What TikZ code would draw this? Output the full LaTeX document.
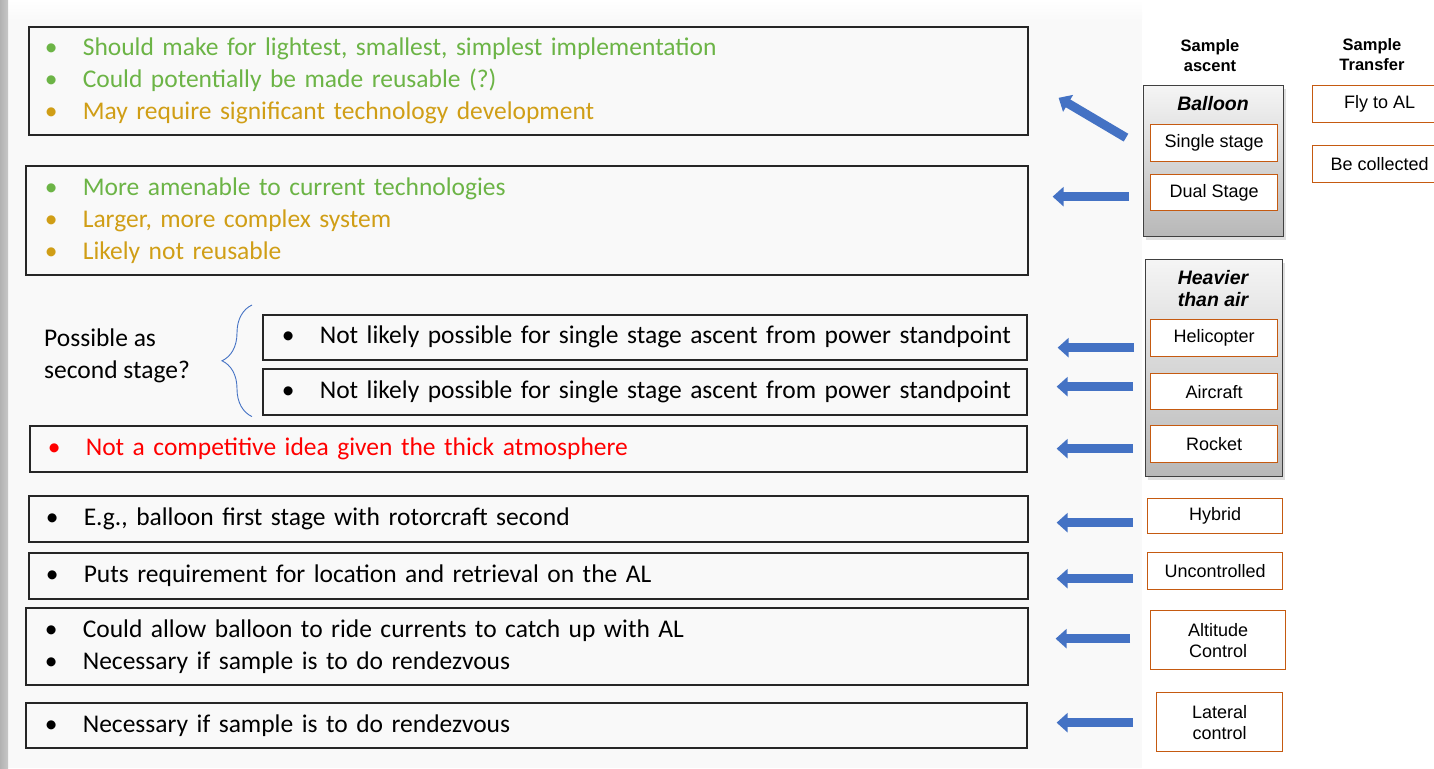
\documentclass[tikz,border=0pt]{standalone}
\usepackage{fontspec}
\setmainfont{Carlito}
\newfontfamily\arialf{Liberation Sans}
\usetikzlibrary{arrows.meta,calc,decorations.pathreplacing,shadows}

\definecolor{okgreen}{RGB}{108,180,70}
\definecolor{okgold}{RGB}{208,158,22}
\definecolor{boxorange}{RGB}{197,90,17}
\definecolor{arrowblue}{RGB}{68,114,196}
\definecolor{panelgrey}{RGB}{249,249,249}

\newcommand{\bul}[2][black]{\makebox[38pt][l]{\color{#1}\textbullet}\mbox{\color{#1}#2}}

\tikzset{
  txtbox/.style={draw=black!85, line width=1.6pt, anchor=north west, align=left,
    inner ysep=0pt},
  optbox/.style={draw=boxorange, line width=1.3pt, fill=white, anchor=north west,
    align=center, inner sep=0pt, font=\arialf\fontsize{18}{21}\selectfont},
  grpbox/.style={draw=black!75, line width=1.3pt, anchor=north west,
    top color=black!4, bottom color=black!28,
    drop shadow={opacity=0.25, shadow xshift=2pt, shadow yshift=-3pt}},
  grptitle/.style={align=center, inner sep=0pt,
    font=\arialf\bfseries\itshape\fontsize{19.5}{22}\selectfont},
  colhead/.style={align=center, inner sep=0pt,
    font=\arialf\bfseries\fontsize{16.5}{20}\selectfont},
  blkarrow/.style={draw=arrowblue, line width=9pt, -{Triangle[length=11pt,width=19pt]}}
}

\begin{document}
\begin{tikzpicture}[x=1pt,y=-1pt,font=\fontsize{25.5}{32}\selectfont]
  \useasboundingbox (0,0) rectangle (1434,768);
  \fill[panelgrey] (8,0) rectangle (1142,768);
  \shade[top color=white, bottom color=panelgrey] (8,0) rectangle (1142,20);
  \shade[left color=black!30, right color=black!22] (0,0) rectangle (8,768);

  % left column of remarks
  \node[txtbox, minimum width=999pt, minimum height=108pt, inner xsep=16pt, text width=967pt] (b1) at (28,26)
    {\bul[okgreen]{Should make for lightest, smallest, simplest implementation}\\
     \bul[okgreen]{Could potentially be made reusable (?)}\\
     \bul[okgold]{May require significant technology development}};
  \node[txtbox, minimum width=1002pt, minimum height=109pt, inner xsep=19pt, text width=964pt] (b2) at (25,165)
    {\bul[okgreen]{More amenable to current technologies}\\
     \bul[okgold]{Larger, more complex system}\\
     \bul[okgold]{Likely not reusable}};
  \node[txtbox, minimum width=764pt, minimum height=45pt, inner xsep=19pt, text width=726pt] (b3) at (262,314)
    {\bul{Not likely possible for single stage ascent from power standpoint}};
  \node[txtbox, minimum width=764pt, minimum height=46pt, inner xsep=19pt, text width=726pt] (b4) at (262,368)
    {\bul{Not likely possible for single stage ascent from power standpoint}};
  \node[txtbox, minimum width=997pt, minimum height=46pt, inner xsep=18pt, text width=961pt] (b5) at (29,425)
    {\bul[red]{Not a competitive idea given the thick atmosphere}};
  \node[txtbox, minimum width=999pt, minimum height=46pt, inner xsep=17pt, text width=965pt] (b6) at (28,495)
    {\bul{E.g., balloon first stage with rotorcraft second}};
  \node[txtbox, minimum width=999pt, minimum height=46pt, inner xsep=17pt, text width=965pt] (b7) at (28,552)
    {\bul{Puts requirement for location and retrieval on the AL}};
  \node[txtbox, minimum width=1002pt, minimum height=77pt, inner xsep=19pt, text width=964pt] (b8) at (25,607)
    {\bul{Could allow balloon to ride currents to catch up with AL}\\
     \bul{Necessary if sample is to do rendezvous}};
  \node[txtbox, minimum width=1001pt, minimum height=45pt, inner xsep=19pt, text width=963pt] (b9) at (25,702)
    {\bul{Necessary if sample is to do rendezvous}};

  \node[anchor=west, align=left, inner sep=0pt] (poss) at (44,356) {Possible as\\second stage?};
  \draw[arrowblue, line width=0.9pt, decorate, decoration={brace, amplitude=30pt}]
    ($(b4.south west)+(-10,1)$) -- ($(b3.north west)+(-10,-9)$);

  % option columns
  \node[colhead] (hascent) at (1210,56) {Sample\\ascent};
  \node[colhead] (htransfer) at (1372,55) {Sample\\Transfer};

  \node[grpbox, minimum width=140pt, minimum height=151pt] (gballoon) at (1143,85) {};
  \node[grptitle] (tballoon) at (1213,104) {Balloon};
  \node[optbox, minimum width=127pt, minimum height=37pt] (ss) at (1150,124) {Single stage};
  \node[optbox, minimum width=127pt, minimum height=36pt] (ds) at (1150,174) {Dual Stage};

  \node[grpbox, minimum width=137pt, minimum height=217pt] (gheavy) at (1145,259) {};
  \node[grptitle] (theavy) at (1213,289) {Heavier\\than air};
  \node[optbox, minimum width=127pt, minimum height=37pt] (hel) at (1150,319) {Helicopter};
  \node[optbox, minimum width=127pt, minimum height=36pt] (air) at (1150,373) {Aircraft};
  \node[optbox, minimum width=127pt, minimum height=37pt] (rock) at (1150,425) {Rocket};

  \node[optbox, minimum width=135pt, minimum height=35pt] (hyb) at (1147,498) {Hybrid};
  \node[optbox, minimum width=135pt, minimum height=37pt] (unc) at (1147,552) {Uncontrolled};
  \node[optbox, minimum width=135pt, minimum height=59pt] (alt) at (1150,610) {Altitude\\Control};
  \node[optbox, minimum width=126pt, minimum height=59pt] (lat) at (1156,692) {Lateral\\control};

  \node[optbox, minimum width=134pt, minimum height=37pt] (fly) at (1312,85) {Fly to AL};
  \node[optbox, minimum width=134pt, minimum height=37pt] (coll) at (1312,145) {Be collected};

  % pointers
  \draw[blkarrow] ($(ss.west)+(-24,-5.5)$) -- ($(b1.east)+(30,17)$);
  \draw[blkarrow] ($(ds.west)+(-21,4)$) -- ($(ds.west -| b2.east)+(24,4)$);
  \draw[blkarrow] ($(hel.west)+(-16,9.5)$) -- ($(hel.west -| b3.east)+(30,9.5)$);
  \draw[blkarrow] ($(air.west)+(-17,-5)$) -- ($(air.west -| b4.east)+(29,-5)$);
  \draw[blkarrow] ($(rock.west)+(-17,4.5)$) -- ($(rock.west -| b5.east)+(29,4.5)$);
  \draw[blkarrow] ($(hyb.west)+(-14,6.5)$) -- ($(hyb.west -| b6.east)+(28,6.5)$);
  \draw[blkarrow] ($(unc.west)+(-14,7.5)$) -- ($(unc.west -| b7.east)+(28,7.5)$);
  \draw[blkarrow] ($(alt.west)+(-20,-1.5)$) -- ($(alt.west -| b8.east)+(27,-1.5)$);
  \draw[blkarrow] ($(lat.west)+(-23,0.5)$) -- ($(lat.west -| b9.east)+(29,0.5)$);
\end{tikzpicture}
\end{document}
